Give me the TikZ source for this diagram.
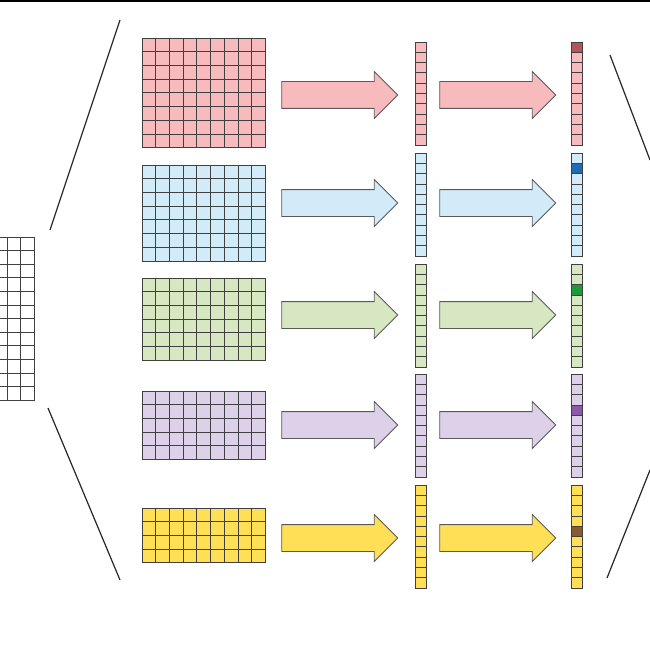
\documentclass[tikz,border=0pt]{standalone}
\usetikzlibrary{shapes.arrows}
\definecolor{pinkc}{HTML}{F8BBBD}
\definecolor{bluec}{HTML}{D2EBF9}
\definecolor{greenc}{HTML}{D7E7C2}
\definecolor{purplec}{HTML}{DCD1E9}
\definecolor{yellowc}{HTML}{FFDF55}
\definecolor{pinkd}{HTML}{B5545A}
\definecolor{blued}{HTML}{1F6BB5}
\definecolor{greend}{HTML}{1E9A3C}
\definecolor{purpled}{HTML}{8D57AA}
\definecolor{yellowd}{HTML}{8A5B2C}
\tikzset{
  gridline/.style={draw=black!75, line width=0.8pt},
  fatarrow/.style={single arrow, draw=black!65, line width=0.8pt, minimum width=46pt,
    single arrow head extend=10pt, single arrow tip angle=90, minimum height=116pt,
    inner xsep=0pt, inner ysep=13pt},
  cutline/.style={line width=1.2pt, black!85}
}
\begin{document}
\begin{tikzpicture}[x=1pt,y=-1pt]
  \useasboundingbox (0,0) rectangle (650,650);
  \draw[line width=1.5pt] (0,1) -- (650,1);
  % left grid
  \foreach \i in {0,...,11}
    \foreach \j in {-1,0,1}
      \draw[gridline] (7+\j*13.5,237+\i*13.6) rectangle ++(13.5,13.6);
  \draw[cutline] (120,20) -- (50,230);
  \draw[cutline] (48,408) -- (120,580);
  \draw[cutline] (610,55) -- (650,160);
  \draw[cutline] (607,578) -- (650,470);
  % rows: colour / dark / grid top / grid rows / arrow y / vector top / mark
  \foreach \c/\d/\gy/\gr/\ay/\vy/\m in {pinkc/pinkd/38/8/95/42/0, bluec/blued/165/7/203/153/1,
      greenc/greend/278/6/315/264/2, purplec/purpled/391/5/425/374/3, yellowc/yellowd/508/4/538/485/4}{
    \foreach \i in {1,...,\gr}
      \foreach \j in {0,...,8}
        \draw[gridline, fill=\c] (142+\j*13.7,\gy+\i*13.7-13.7) rectangle ++(13.7,13.7);
    \node[fatarrow, fill=\c] (a\m) at (333,\ay) {};
    \node[fatarrow, fill=\c] (b\m) at (491,\ay) {};
    \foreach \k in {0,...,9}{
      \draw[gridline, fill=\c] (415,\vy+\k*10.3) rectangle ++(11,10.3);
      \ifnum\k=\m
        \draw[gridline, fill=\d] (571,\vy+\k*10.3) rectangle ++(11,10.3);
      \else
        \draw[gridline, fill=\c] (571,\vy+\k*10.3) rectangle ++(11,10.3);
      \fi
    }
  }
\end{tikzpicture}
\end{document}
